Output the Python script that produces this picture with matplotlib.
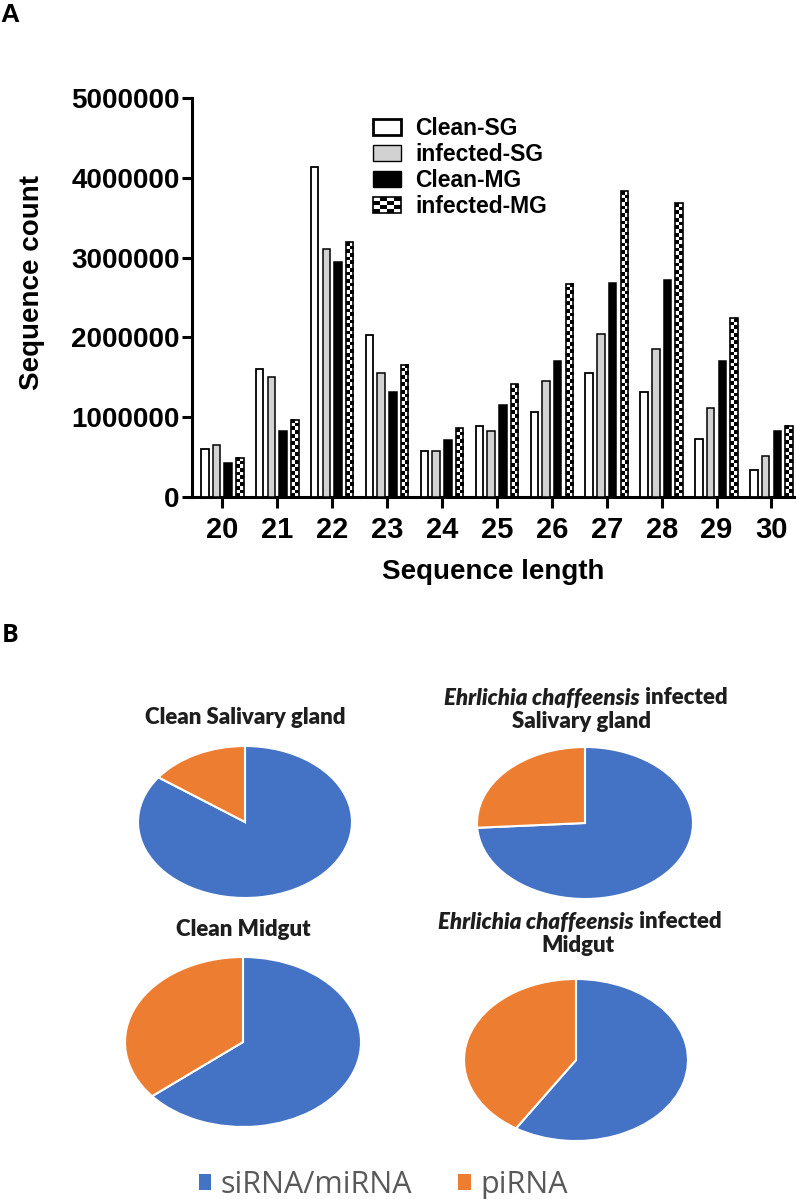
import numpy as np
import matplotlib
matplotlib.use('Agg')
import matplotlib.pyplot as plt
from matplotlib.patches import Rectangle, Patch
from matplotlib.legend_handler import HandlerBase

# ---------------- data ----------------
lengths = ['20', '21', '22', '23', '24', '25', '26', '27', '28', '29', '30']
clean_sg = [0.60e6, 1.61e6, 4.14e6, 2.03e6, 0.58e6, 0.89e6, 1.07e6, 1.55e6, 1.31e6, 0.73e6, 0.34e6]
infected_sg = [0.65e6, 1.50e6, 3.11e6, 1.56e6, 0.58e6, 0.83e6, 1.45e6, 2.04e6, 1.85e6, 1.11e6, 0.52e6]
clean_mg = [0.42e6, 0.83e6, 2.95e6, 1.31e6, 0.72e6, 1.15e6, 1.70e6, 2.68e6, 2.72e6, 1.70e6, 0.83e6]
infected_mg = [0.49e6, 0.97e6, 3.19e6, 1.66e6, 0.86e6, 1.41e6, 2.67e6, 3.83e6, 3.68e6, 2.24e6, 0.89e6]
series_names = ['Clean-SG', 'infected-SG', 'Clean-MG', 'infected-MG']
yticks = [0, 1000000, 2000000, 3000000, 4000000, 5000000]

pie_labels = ['siRNA/miRNA', 'piRNA']
pie_sirna = [85, 74, 64, 59]
pie_pirna = [15, 26, 36, 41]
pie_colors = ['#4472C4', '#ED7D31']

W, H = 796, 1199
fig = plt.figure(figsize=(W / 100, H / 100), dpi=100)

def fx(px):
    return px / W

def fy(py):
    return 1 - py / H

BF = 'Liberation Sans'

# ---------------- panel A ----------------
ax = fig.add_axes([fx(192), fy(497), fx(794) - fx(192), fy(98) - fy(497)])
ax.set_xlim(-0.552, 10.41)
ax.set_ylim(0, 5e6)

x = np.arange(len(lengths))
slot = 0.213
bw = 0.137
offs = [-1.5, -0.5, 0.5, 1.5]
ax.bar(x + offs[0] * slot, clean_sg, bw, facecolor='white', edgecolor='black', lw=1.3, zorder=3)
ax.bar(x + offs[1] * slot, infected_sg, bw, facecolor='#d2d2d2', edgecolor='black', lw=1.1, zorder=3)
ax.bar(x + offs[2] * slot, clean_mg, bw, facecolor='black', edgecolor='black', lw=1.1, zorder=3)
chk = ax.bar(x + offs[3] * slot, infected_mg, bw, facecolor='none', edgecolor='black', lw=1.2, zorder=3)

fig.canvas.draw()
for b in chk:
    x0, y0 = b.get_x(), b.get_y()
    w, h = b.get_width(), b.get_height()
    p0 = ax.transData.transform((x0, y0))
    p1 = ax.transData.transform((x0 + w, y0 + h))
    nrows = max(1, int(round((p1[1] - p0[1]) / 3.7)))
    arr = np.add.outer(np.arange(nrows), np.arange(2)) % 2
    ax.imshow(arr, extent=(x0, x0 + w, y0, y0 + h), cmap='gray', vmin=0, vmax=1,
              interpolation='nearest', aspect='auto', origin='lower',
              clip_path=b, zorder=2)
ax.set_xlim(-0.552, 10.41)
ax.set_ylim(0, 5e6)

for s in ['top', 'right']:
    ax.spines[s].set_visible(False)
for s in ['left', 'bottom']:
    ax.spines[s].set_linewidth(2.2)
ax.set_xticks(x)
ax.set_xticklabels(lengths, fontsize=21, fontweight='bold', family=BF)
ax.set_yticks(yticks)
ax.set_yticklabels([str(v) for v in yticks], fontsize=20, fontweight='bold', family=BF)
ax.tick_params(axis='y', length=7, width=2.2, pad=2)
ax.tick_params(axis='x', length=8, width=2.2, pad=6)
ax.set_xlabel('Sequence length', fontsize=20, fontweight='bold', family=BF)
ax.set_ylabel('Sequence count', fontsize=20, fontweight='bold', family=BF)
ax.xaxis.label.set_va('center')
ax.yaxis.label.set_va('center')
ax.xaxis.set_label_coords(0.5, (497 - 572) / 399)
ax.yaxis.set_label_coords((32 - 192) / 602, (497 - 283) / 399)


class CheckerHandler(HandlerBase):
    def create_artists(self, legend, orig_handle, xdescent, ydescent, width, height, fontsize, trans):
        arts = []
        n = 4
        cw, ch = width / n, height / n
        for i in range(n):
            for j in range(n):
                c = 'black' if (i + j) % 2 == 0 else 'white'
                arts.append(Rectangle((-xdescent + i * cw, -ydescent + j * ch), cw, ch,
                                      facecolor=c, edgecolor='none', transform=trans))
        arts.append(Rectangle((-xdescent, -ydescent), width, height, facecolor='none',
                              edgecolor='black', lw=1.2, transform=trans))
        return arts


h1 = Patch(facecolor='white', edgecolor='black', lw=2.0)
h2 = Patch(facecolor='#d2d2d2', edgecolor='black', lw=1.0)
h3 = Patch(facecolor='black', edgecolor='black', lw=1.0)
h4 = Patch(facecolor='white', edgecolor='black')
leg = ax.legend([h1, h2, h3, h4], series_names, loc='upper left',
                bbox_to_anchor=(fx(373), fy(117)), bbox_transform=fig.transFigure,
                frameon=False, borderpad=0, borderaxespad=0, labelspacing=0.13,
                handlelength=1.2, handleheight=0.75, handletextpad=0.65,
                prop={'family': BF, 'weight': 'bold', 'size': 16.5},
                handler_map={h4: CheckerHandler()})

fig.text(fx(10), fy(15), 'A', fontsize=19, fontweight='bold', family=BF, ha='center', va='center')

# ---------------- panel B ----------------
fig.text(fx(10), fy(635), 'B', fontsize=18, fontweight='bold', family='Open Sans', ha='center', va='center')

pie_geom = [(245, 822, 107, 76), (585, 823, 108, 76), (243, 1042, 118, 85), (576, 1060, 112, 81)]
for (cx, cy, rx, ry), a, b in zip(pie_geom, pie_sirna, pie_pirna):
    pax = fig.add_axes([fx(cx - rx), fy(cy + ry), fx(2 * rx), fy(0) - fy(2 * ry)])
    pax.pie([a, b], colors=pie_colors, startangle=90, counterclock=False,
            wedgeprops=dict(edgecolor='white', linewidth=1.5))
    pax.set_aspect('auto')
    pax.set_xlim(-1.0, 1.0)
    pax.set_ylim(-1.0, 1.0)
    pax.axis('off')

TF = 'Lato'
TS = 16
TC = '#1e1e1e'
renderer = fig.canvas.get_renderer()


def centered_title(cx, cy, parts):
    texts = []
    for t, st in parts:
        texts.append(fig.text(0, fy(cy), t, fontsize=TS, fontweight='heavy', fontstyle=st,
                              family=TF, color=TC, ha='left', va='center'))
    widths = [tt.get_window_extent(renderer).width for tt in texts]
    total = sum(widths)
    start = cx - total / 2
    for tt, w in zip(texts, widths):
        tt.set_x(fx(start))
        start += w


centered_title(245, 718, [('Clean Salivary gland', 'normal')])
centered_title(586, 698, [('Ehrlichia chaffeensis', 'italic'), (' infected', 'normal')])
centered_title(582, 721, [('Salivary gland', 'normal')])
centered_title(243, 930, [('Clean Midgut', 'normal')])
centered_title(580, 922, [('Ehrlichia chaffeensis', 'italic'), (' infected', 'normal')])
centered_title(578, 946, [('Midgut', 'normal')])

lh = [Patch(facecolor=c, edgecolor='none') for c in pie_colors]
fig.legend(lh, pie_labels, loc='center', bbox_to_anchor=(fx(383), fy(1185)),
           ncol=2, frameon=False, prop={'family': 'Open Sans', 'size': 22},
           labelcolor='#595959', handlelength=0.42, handleheight=0.42,
           handletextpad=0.3, columnspacing=1.5, borderpad=0)

fig.savefig('out.png', dpi=100)
